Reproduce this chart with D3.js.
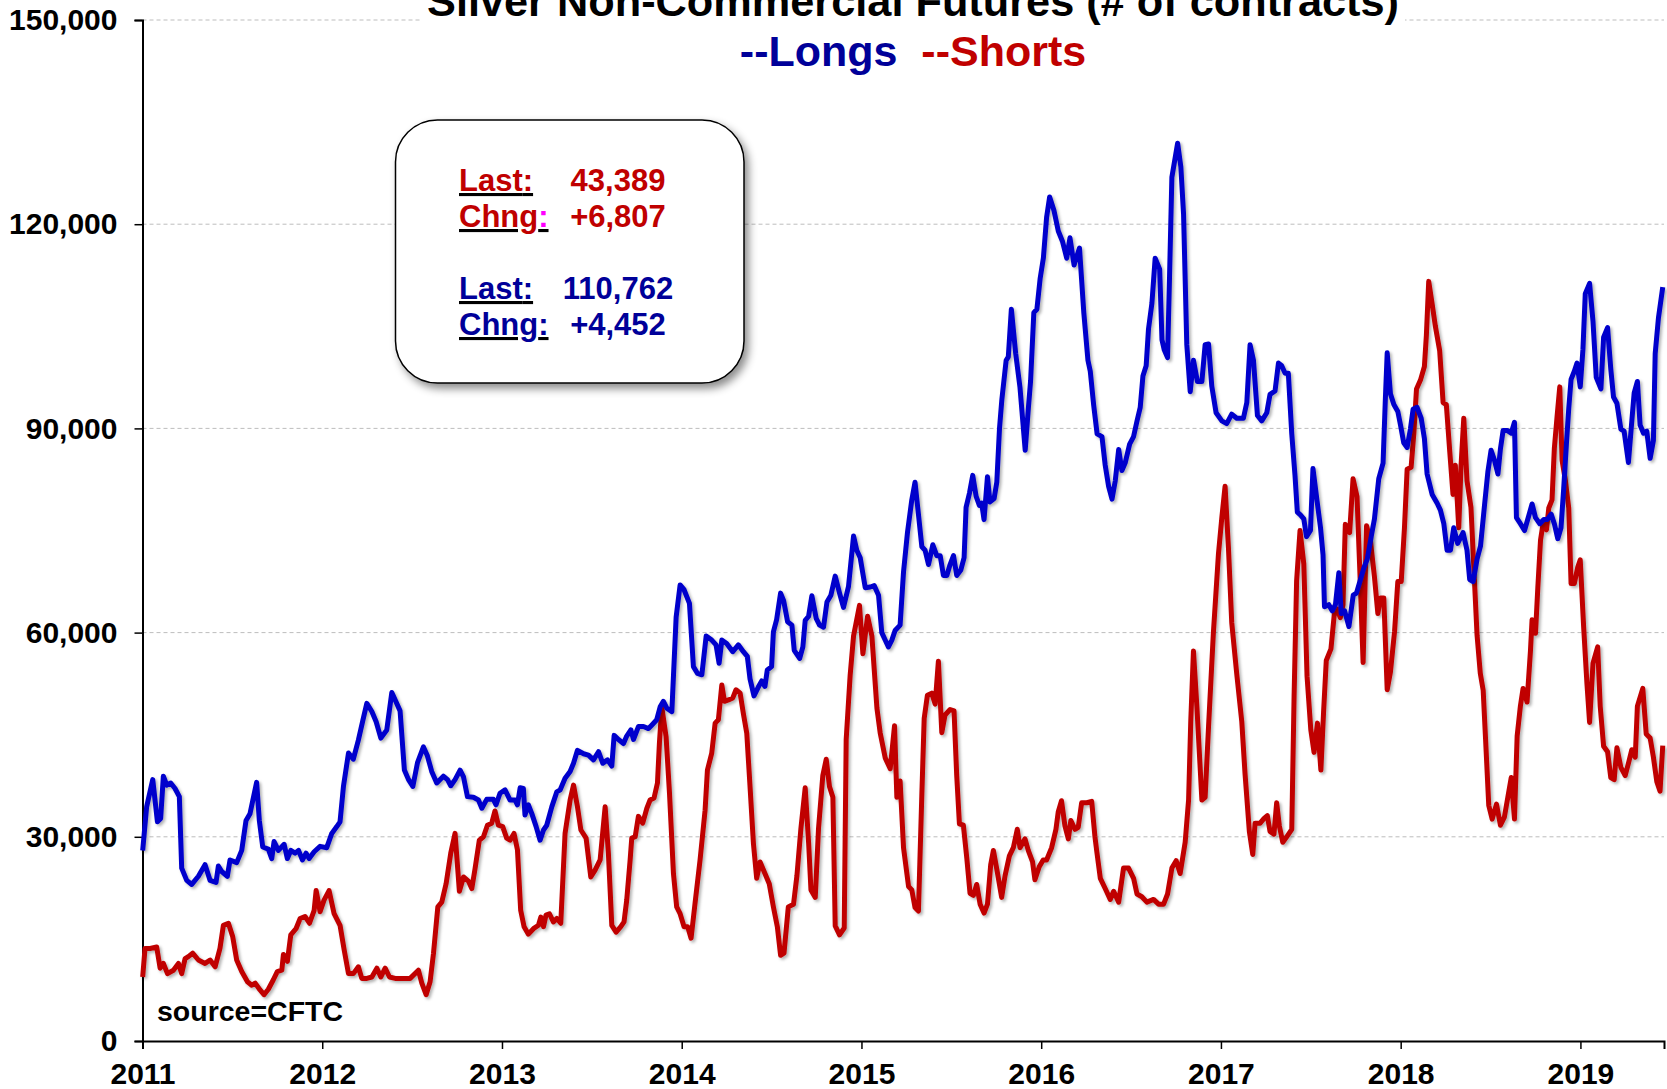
<!DOCTYPE html>
<html>
<head>
<meta charset="utf-8">
<script src="https://cdn.jsdelivr.net/npm/d3@7"></script>
<style>
  body { margin: 0; background: #fff; }
  svg { display: block; font-family: "Liberation Sans", Arial, sans-serif; font-weight: bold; }
</style>
</head>
<body>
<div id="chart"></div>
<script>
// Weekly Commitments of Traders readings, time in decimal years, values in thousands of contracts
const longsTime = [
  2011.001, 2011.023, 2011.057, 2011.083, 2011.101, 2011.116, 2011.135, 2011.157, 2011.181, 2011.205,
  2011.218, 2011.246, 2011.274, 2011.311, 2011.348, 2011.376, 2011.409, 2011.422, 2011.441, 2011.472,
  2011.487, 2011.524, 2011.552, 2011.576, 2011.598, 2011.635, 2011.650, 2011.669, 2011.700, 2011.719,
  2011.732, 2011.756, 2011.788, 2011.806, 2011.825, 2011.849, 2011.868, 2011.890, 2011.910, 2011.927,
  2011.955, 2011.988, 2012.025, 2012.053, 2012.081, 2012.099, 2012.118, 2012.146, 2012.173, 2012.201,
  2012.226, 2012.248, 2012.276, 2012.300, 2012.326, 2012.359, 2012.387, 2012.411, 2012.433, 2012.457,
  2012.480, 2012.504, 2012.530, 2012.563, 2012.585, 2012.609, 2012.637, 2012.674, 2012.697, 2012.715,
  2012.739, 2012.767, 2012.786, 2012.808, 2012.841, 2012.869, 2012.888, 2012.915, 2012.952, 2012.967,
  2012.989, 2013.017, 2013.045, 2013.073, 2013.086, 2013.101, 2013.119, 2013.128, 2013.147, 2013.166,
  2013.190, 2013.212, 2013.231, 2013.249, 2013.277, 2013.305, 2013.324, 2013.351, 2013.379, 2013.398,
  2013.420, 2013.454, 2013.481, 2013.509, 2013.537, 2013.561, 2013.587, 2013.611, 2013.624, 2013.648,
  2013.676, 2013.694, 2013.717, 2013.732, 2013.759, 2013.787, 2013.815, 2013.833, 2013.861, 2013.880,
  2013.898, 2013.917, 2013.945, 2013.969, 2013.991, 2014.013, 2014.043, 2014.065, 2014.088, 2014.112,
  2014.136, 2014.167, 2014.191, 2014.208, 2014.223, 2014.250, 2014.284, 2014.315, 2014.343, 2014.365,
  2014.380, 2014.402, 2014.426, 2014.445, 2014.463, 2014.476, 2014.500, 2014.510, 2014.528, 2014.550,
  2014.567, 2014.589, 2014.613, 2014.626, 2014.656, 2014.674, 2014.687, 2014.706, 2014.724, 2014.748,
  2014.767, 2014.789, 2014.808, 2014.830, 2014.854, 2014.878, 2014.900, 2014.928, 2014.956, 2014.974,
  2014.993, 2015.021, 2015.049, 2015.071, 2015.095, 2015.113, 2015.132, 2015.150, 2015.169, 2015.187,
  2015.215, 2015.234, 2015.256, 2015.280, 2015.298, 2015.317, 2015.336, 2015.354, 2015.373, 2015.397,
  2015.419, 2015.438, 2015.456, 2015.475, 2015.493, 2015.512, 2015.530, 2015.553, 2015.571, 2015.582,
  2015.601, 2015.619, 2015.638, 2015.656, 2015.669, 2015.682, 2015.701, 2015.715, 2015.738, 2015.753,
  2015.768, 2015.781, 2015.805, 2015.817, 2015.834, 2015.858, 2015.882, 2015.911, 2015.929, 2015.941,
  2015.959, 2015.976, 2015.994, 2016.012, 2016.030, 2016.047, 2016.071, 2016.095, 2016.118, 2016.142,
  2016.160, 2016.183, 2016.213, 2016.237, 2016.260, 2016.273, 2016.292, 2016.311, 2016.338, 2016.356,
  2016.375, 2016.394, 2016.412, 2016.431, 2016.449, 2016.468, 2016.492, 2016.514, 2016.533, 2016.551,
  2016.566, 2016.584, 2016.597, 2016.616, 2016.634, 2016.659, 2016.672, 2016.685, 2016.703, 2016.714,
  2016.727, 2016.759, 2016.777, 2016.792, 2016.810, 2016.829, 2016.847, 2016.869, 2016.894, 2016.912,
  2016.931, 2016.949, 2016.973, 2017.005, 2017.032, 2017.060, 2017.088, 2017.125, 2017.144, 2017.162,
  2017.181, 2017.203, 2017.227, 2017.255, 2017.273, 2017.301, 2017.320, 2017.338, 2017.357, 2017.375,
  2017.394, 2017.412, 2017.425, 2017.442, 2017.461, 2017.476, 2017.498, 2017.512, 2017.535, 2017.554,
  2017.568, 2017.576, 2017.600, 2017.619, 2017.637, 2017.656, 2017.669, 2017.688, 2017.712, 2017.736,
  2017.754, 2017.773, 2017.795, 2017.814, 2017.836, 2017.854, 2017.878, 2017.902, 2017.915, 2017.925,
  2017.943, 2017.962, 2017.984, 2017.999, 2018.017, 2018.036, 2018.054, 2018.069, 2018.091, 2018.114,
  2018.132, 2018.147, 2018.175, 2018.203, 2018.221, 2018.240, 2018.258, 2018.277, 2018.295, 2018.317,
  2018.347, 2018.369, 2018.384, 2018.403, 2018.425, 2018.444, 2018.466, 2018.485, 2018.503, 2018.522,
  2018.541, 2018.555, 2018.570, 2018.592, 2018.615, 2018.633, 2018.644, 2018.666, 2018.689, 2018.713,
  2018.731, 2018.750, 2018.774, 2018.796, 2018.815, 2018.837, 2018.855, 2018.874, 2018.892, 2018.907,
  2018.922, 2018.935, 2018.948, 2018.966, 2018.981, 2018.999, 2019.014, 2019.027, 2019.051, 2019.070,
  2019.088, 2019.114, 2019.129, 2019.151, 2019.169, 2019.184, 2019.203, 2019.225, 2019.243, 2019.267,
  2019.286, 2019.299, 2019.317, 2019.332, 2019.351, 2019.369, 2019.388, 2019.406, 2019.416, 2019.434,
  2019.458
];
const longsThousands = [
  28.0, 34.4, 38.4, 32.2, 32.7, 38.9, 37.6, 37.9, 37.1, 35.9,
  25.4, 23.6, 23.0, 24.2, 25.9, 23.6, 23.3, 25.7, 24.9, 24.2,
  26.6, 26.2, 28.0, 32.4, 33.4, 38.0, 32.4, 28.5, 28.2, 26.8,
  29.3, 28.0, 28.9, 26.8, 28.0, 27.6, 28.0, 26.6, 27.6, 26.8,
  27.8, 28.6, 28.4, 30.5, 31.5, 32.2, 37.4, 42.3, 41.4, 44.2,
  47.1, 49.6, 48.4, 46.9, 44.5, 45.7, 51.2, 49.8, 48.5, 39.8,
  38.4, 37.4, 40.9, 43.2, 41.9, 39.6, 37.9, 38.9, 38.4, 37.5,
  38.4, 39.8, 38.8, 35.9, 35.8, 35.4, 34.2, 35.5, 35.5, 34.7,
  36.4, 36.9, 35.4, 35.4, 34.7, 37.2, 37.1, 33.2, 34.7, 33.4,
  31.5, 29.5, 31.0, 31.7, 34.4, 36.6, 36.9, 38.6, 39.6, 40.8,
  42.7, 42.2, 42.0, 41.3, 42.5, 40.8, 41.3, 40.4, 44.9, 44.3,
  43.7, 44.8, 45.7, 44.3, 46.2, 46.2, 45.9, 46.4, 47.2, 49.1,
  49.9, 48.9, 48.4, 62.3, 67.0, 66.3, 64.3, 55.0, 54.0, 53.8,
  59.5, 58.9, 58.2, 55.5, 58.9, 58.4, 57.2, 58.2, 57.2, 56.5,
  53.2, 50.7, 52.0, 52.9, 52.1, 54.5, 55.0, 60.1, 61.9, 65.8,
  64.7, 61.6, 61.1, 57.4, 56.2, 57.9, 61.8, 62.4, 65.4, 62.1,
  61.1, 60.8, 64.5, 65.5, 68.3, 65.8, 63.7, 66.8, 74.2, 72.1,
  71.0, 66.6, 66.7, 66.9, 65.5, 60.0, 58.9, 57.9, 58.9, 60.3,
  61.1, 68.9, 74.7, 79.5, 82.1, 77.4, 72.6, 72.1, 70.0, 72.9,
  71.3, 71.3, 68.4, 68.4, 70.0, 71.3, 68.4, 69.2, 71.0, 78.4,
  80.5, 83.1, 80.0, 78.7, 79.0, 76.6, 82.9, 79.2, 79.7, 82.1,
  90.0, 94.2, 100.0, 100.5, 107.5, 101.0, 96.0, 86.8, 93.1, 97.0,
  107.0, 107.5, 112.0, 115.0, 121.0, 124.0, 122.0, 119.0, 117.5, 115.0,
  118.0, 114.0, 116.5, 107.0, 100.0, 98.4, 93.4, 89.2, 88.8, 84.6,
  81.5, 79.6, 82.3, 86.9, 83.8, 85.0, 87.7, 88.8, 91.1, 93.1,
  97.7, 99.2, 104.6, 108.4, 115.0, 113.4, 103.0, 101.5, 100.4, 112.3,
  126.9, 131.9, 128.4, 121.5, 102.3, 95.4, 100.0, 96.9, 96.9, 102.3,
  102.4, 96.2, 92.3, 91.1, 90.7, 92.1, 91.5, 91.5, 93.8, 102.3,
  100.0, 91.9, 91.1, 92.3, 95.0, 95.5, 99.6, 99.2, 98.1, 98.1,
  89.2, 83.1, 77.7, 77.3, 76.7, 74.1, 75.0, 84.1, 79.3, 75.4,
  71.4, 63.8, 64.1, 63.2, 64.1, 68.8, 62.8, 63.2, 60.9, 65.5,
  65.8, 67.5, 69.5, 70.8, 74.1, 76.7, 82.6, 84.9, 94.5, 101.1,
  95.1, 93.5, 92.5, 90.5, 87.9, 87.2, 89.9, 92.8, 93.1, 91.5,
  88.5, 83.3, 80.3, 79.0, 78.0, 76.0, 72.1, 72.1, 75.4, 73.1,
  74.7, 72.1, 67.8, 67.5, 70.8, 72.7, 78.6, 83.6, 86.8, 85.3,
  83.3, 87.0, 89.7, 89.7, 89.3, 90.9, 76.9, 76.0, 75.0, 77.2,
  78.9, 76.9, 76.0, 76.6, 76.6, 77.4, 76.0, 73.8, 75.4, 81.2,
  87.7, 92.9, 97.2, 98.4, 99.6, 96.1, 101.6, 109.8, 111.3, 105.7,
  97.5, 95.8, 103.4, 104.8, 98.7, 94.6, 93.7, 89.9, 89.6, 85.0,
  91.1, 95.2, 96.9, 90.5, 89.3, 89.6, 85.6, 88.2, 101.0, 106.2,
  110.762
];

const shortsTime = [
  2011.001, 2011.014, 2011.042, 2011.079, 2011.098, 2011.116, 2011.139, 2011.172, 2011.200, 2011.218,
  2011.237, 2011.255, 2011.279, 2011.311, 2011.348, 2011.376, 2011.404, 2011.431, 2011.450, 2011.478,
  2011.502, 2011.524, 2011.552, 2011.584, 2011.608, 2011.627, 2011.654, 2011.676, 2011.700, 2011.728,
  2011.750, 2011.775, 2011.784, 2011.806, 2011.825, 2011.854, 2011.877, 2011.904, 2011.929, 2011.955,
  2011.966, 2011.988, 2012.010, 2012.038, 2012.066, 2012.099, 2012.122, 2012.146, 2012.173, 2012.201,
  2012.220, 2012.248, 2012.276, 2012.304, 2012.326, 2012.350, 2012.374, 2012.406, 2012.452, 2012.489,
  2012.535, 2012.554, 2012.578, 2012.600, 2012.619, 2012.643, 2012.665, 2012.689, 2012.715, 2012.739,
  2012.763, 2012.786, 2012.813, 2012.832, 2012.850, 2012.874, 2012.897, 2012.919, 2012.943, 2012.961,
  2012.980, 2013.004, 2013.026, 2013.045, 2013.067, 2013.086, 2013.104, 2013.123, 2013.147, 2013.175,
  2013.203, 2013.216, 2013.231, 2013.245, 2013.264, 2013.286, 2013.305, 2013.327, 2013.351, 2013.379,
  2013.398, 2013.420, 2013.439, 2013.468, 2013.494, 2013.518, 2013.546, 2013.574, 2013.592, 2013.611,
  2013.635, 2013.661, 2013.679, 2013.694, 2013.713, 2013.722, 2013.741, 2013.759, 2013.783, 2013.806,
  2013.824, 2013.846, 2013.865, 2013.876, 2013.889, 2013.913, 2013.932, 2013.954, 2013.972, 2013.991,
  2014.013, 2014.033, 2014.052, 2014.074, 2014.102, 2014.130, 2014.143, 2014.167, 2014.186, 2014.204,
  2014.223, 2014.238, 2014.260, 2014.284, 2014.302, 2014.325, 2014.343, 2014.362, 2014.380, 2014.399,
  2014.417, 2014.436, 2014.463, 2014.487, 2014.510, 2014.532, 2014.550, 2014.569, 2014.593, 2014.622,
  2014.641, 2014.663, 2014.687, 2014.706, 2014.719, 2014.743, 2014.761, 2014.785, 2014.804, 2014.822,
  2014.841, 2014.854, 2014.878, 2014.904, 2014.915, 2014.937, 2014.956, 2014.989, 2015.008, 2015.034,
  2015.058, 2015.086, 2015.104, 2015.132, 2015.160, 2015.184, 2015.197, 2015.215, 2015.234, 2015.262,
  2015.280, 2015.298, 2015.317, 2015.336, 2015.349, 2015.367, 2015.391, 2015.410, 2015.428, 2015.447,
  2015.465, 2015.493, 2015.515, 2015.530, 2015.545, 2015.567, 2015.586, 2015.604, 2015.623, 2015.641,
  2015.660, 2015.682, 2015.701, 2015.719, 2015.734, 2015.756, 2015.780, 2015.799, 2015.823, 2015.845,
  2015.867, 2015.882, 2015.910, 2015.928, 2015.952, 2015.965, 2015.989, 2016.011, 2016.030, 2016.058,
  2016.082, 2016.095, 2016.113, 2016.132, 2016.151, 2016.165, 2016.188, 2016.206, 2016.225, 2016.253,
  2016.281, 2016.299, 2016.310, 2016.329, 2016.356, 2016.384, 2016.403, 2016.431, 2016.458, 2016.486,
  2016.514, 2016.533, 2016.560, 2016.588, 2016.625, 2016.653, 2016.681, 2016.703, 2016.727, 2016.751,
  2016.773, 2016.801, 2016.820, 2016.832, 2016.847, 2016.866, 2016.894, 2016.912, 2016.931, 2016.958,
  2016.986, 2017.005, 2017.023, 2017.042, 2017.060, 2017.088, 2017.116, 2017.134, 2017.158, 2017.177,
  2017.190, 2017.218, 2017.240, 2017.258, 2017.273, 2017.295, 2017.310, 2017.325, 2017.344, 2017.366,
  2017.394, 2017.407, 2017.421, 2017.440, 2017.461, 2017.479, 2017.500, 2017.518, 2017.537, 2017.556,
  2017.571, 2017.586, 2017.612, 2017.631, 2017.645, 2017.664, 2017.679, 2017.692, 2017.716, 2017.735,
  2017.757, 2017.776, 2017.791, 2017.810, 2017.832, 2017.854, 2017.873, 2017.888, 2017.906, 2017.925,
  2017.943, 2017.966, 2017.984, 2018.003, 2018.021, 2018.036, 2018.058, 2018.073, 2018.088, 2018.110,
  2018.132, 2018.143, 2018.156, 2018.175, 2018.193, 2018.217, 2018.236, 2018.254, 2018.273, 2018.291,
  2018.304, 2018.323, 2018.336, 2018.351, 2018.369, 2018.391, 2018.406, 2018.425, 2018.443, 2018.459,
  2018.472, 2018.490, 2018.509, 2018.533, 2018.555, 2018.577, 2018.596, 2018.615, 2018.633, 2018.648,
  2018.666, 2018.681, 2018.703, 2018.722, 2018.731, 2018.750, 2018.763, 2018.778, 2018.792, 2018.811,
  2018.824, 2018.842, 2018.855, 2018.870, 2018.885, 2018.898, 2018.916, 2018.935, 2018.948, 2018.966,
  2018.985, 2018.999, 2019.018, 2019.036, 2019.051, 2019.070, 2019.096, 2019.110, 2019.129, 2019.151,
  2019.169, 2019.188, 2019.203, 2019.225, 2019.249, 2019.267, 2019.286, 2019.305, 2019.317, 2019.347,
  2019.366, 2019.388, 2019.406, 2019.425, 2019.443, 2019.458
];
const shortsThousands = [
  9.4, 13.6, 13.6, 13.8, 10.7, 11.4, 9.9, 10.4, 11.4, 9.9,
  12.1, 12.4, 12.9, 11.9, 11.4, 11.9, 10.9, 13.6, 17.0, 17.3,
  15.3, 11.9, 10.2, 8.7, 8.2, 8.5, 7.5, 6.8, 7.6, 9.0,
  10.2, 10.4, 12.7, 11.7, 15.6, 16.5, 18.0, 18.3, 17.3, 19.2,
  22.1, 19.0, 20.7, 22.1, 18.7, 17.0, 13.4, 9.9, 9.9, 10.9,
  9.2, 9.2, 9.4, 10.7, 9.4, 10.7, 9.4, 9.2, 9.2, 9.2,
  10.4, 8.5, 6.8, 8.7, 12.9, 19.7, 20.4, 23.1, 27.6, 30.5,
  22.0, 24.1, 23.5, 22.4, 25.3, 29.5, 30.0, 31.7, 32.0, 33.8,
  31.7, 31.5, 29.8, 29.5, 30.5, 28.1, 19.2, 16.8, 15.7, 16.5,
  17.0, 18.2, 16.8, 18.5, 18.7, 17.5, 18.0, 17.3, 30.5, 35.4,
  37.6, 34.4, 31.0, 29.8, 24.1, 25.1, 26.6, 34.4, 27.6, 17.0,
  16.0, 16.8, 17.5, 20.7, 26.6, 29.8, 30.0, 33.0, 32.0, 34.2,
  35.4, 35.7, 37.9, 43.8, 49.1, 44.7, 36.4, 24.6, 19.7, 18.7,
  16.8, 16.8, 15.1, 20.2, 26.6, 33.9, 39.8, 42.3, 46.7, 47.2,
  52.3, 49.9, 50.1, 50.4, 51.6, 51.1, 48.1, 45.2, 37.4, 29.0,
  23.9, 26.3, 24.6, 23.1, 19.7, 16.8, 12.6, 12.9, 19.7, 20.1,
  24.3, 31.2, 37.2, 29.1, 22.2, 21.1, 31.2, 39.0, 41.4, 37.4,
  35.8, 16.9, 15.6, 16.6, 44.3, 53.7, 59.5, 64.0, 56.9, 62.4,
  59.5, 48.9, 45.3, 41.6, 40.0, 46.3, 35.8, 38.2, 28.4, 22.7,
  22.2, 19.6, 19.1, 36.3, 47.4, 50.8, 51.1, 49.5, 55.8, 45.3,
  47.9, 48.7, 48.5, 39.0, 31.9, 31.7, 26.9, 21.7, 21.4, 23.0,
  20.1, 18.8, 20.1, 25.9, 28.0, 24.8, 21.1, 24.3, 27.2, 28.4,
  31.1, 28.4, 29.7, 28.0, 26.3, 23.7, 25.6, 26.6, 26.6, 28.4,
  31.1, 33.7, 35.3, 31.6, 29.7, 32.4, 31.1, 31.4, 35.0, 35.0,
  35.2, 30.0, 27.7, 23.9, 22.4, 20.8, 22.0, 20.4, 25.4, 25.4,
  23.9, 21.6, 21.2, 20.4, 20.8, 20.1, 20.1, 21.6, 25.4, 26.5,
  24.6, 29.2, 35.4, 46.9, 57.3, 49.2, 35.4, 35.8, 46.2, 60.0,
  71.5, 76.9, 81.5, 72.3, 61.5, 53.9, 46.9, 39.3, 30.8, 27.4,
  32.0, 32.0, 32.7, 33.1, 30.8, 30.4, 35.0, 31.6, 29.2, 30.0,
  31.1, 50.7, 67.6, 75.0, 70.1, 53.6, 45.7, 42.4, 46.7, 39.8,
  48.3, 55.9, 57.6, 62.8, 63.5, 62.2, 64.1, 75.9, 74.7, 82.6,
  80.0, 66.8, 55.6, 75.7, 73.4, 68.2, 62.8, 65.1, 65.1, 51.6,
  54.2, 60.2, 67.5, 67.5, 75.4, 84.0, 84.3, 89.2, 95.8, 97.1,
  99.1, 103.7, 111.6, 108.3, 105.0, 101.4, 93.8, 93.5, 86.6, 80.3,
  84.6, 75.4, 84.6, 91.5, 82.3, 78.4, 70.1, 59.6, 54.0, 51.5,
  44.5, 34.6, 32.6, 34.8, 31.7, 32.9, 35.8, 38.7, 32.6, 44.8,
  49.2, 51.8, 49.8, 57.3, 61.9, 59.9, 66.6, 73.6, 76.0, 75.1,
  78.3, 79.5, 87.1, 91.7, 96.1, 85.3, 82.4, 78.3, 67.2, 67.2,
  69.6, 70.7, 60.8, 52.6, 46.8, 55.5, 57.9, 49.2, 43.3, 42.5,
  38.7, 38.4, 43.1, 40.2, 39.0, 40.8, 42.8, 41.7, 49.2, 51.8,
  45.1, 44.5, 41.7, 38.1, 36.7, 43.389
];

const yearTicks = [2011, 2012, 2013, 2014, 2015, 2016, 2017, 2018, 2019];
const valueTicks = [0, 30, 60, 90, 120, 150];

const TITLE = "Silver Non-Commercial Futures  (# of contracts)";
const LONGS_LABEL = "--Longs";
const SHORTS_LABEL = "--Shorts";
const SOURCE = "source=CFTC";
const shortsStats = { last: "43,389", chng: "+6,807" };
const longsStats = { last: "110,762", chng: "+4,452" };

// Colours
const BLUE_LINE = "#0000CC";
const RED_LINE = "#C00000";
const BLUE_TEXT = "#000099";
const GRID = "#BDBDBD";

const WIDTH = 1667;
const HEIGHT = 1089;
const margin = { top: 20, right: 3, bottom: 48, left: 142.5 };
const plotW = WIDTH - margin.left - margin.right;
const plotH = HEIGHT - margin.top - margin.bottom;

const svg = d3.select("#chart")
    .append("svg")
    .attr("width", WIDTH)
    .attr("height", HEIGHT);

const defs = svg.append("defs");
defs.append("filter")
    .attr("id", "lineShadow")
    .attr("x", "-5%").attr("y", "-5%").attr("width", "110%").attr("height", "110%")
    .append("feDropShadow")
    .attr("dx", 2).attr("dy", 2).attr("stdDeviation", 1.5)
    .attr("flood-color", "#000").attr("flood-opacity", 0.3);
defs.append("filter")
    .attr("id", "boxShadow")
    .attr("x", "-10%").attr("y", "-10%").attr("width", "125%").attr("height", "125%")
    .append("feDropShadow")
    .attr("dx", 4).attr("dy", 5).attr("stdDeviation", 4)
    .attr("flood-color", "#000").attr("flood-opacity", 0.45);

const g = svg.append("g")
    .attr("transform", `translate(${margin.left}, ${margin.top})`);

const x = d3.scaleLinear()
    .domain([2011, 2019.465])
    .range([0, plotW]);

const y = d3.scaleLinear()
    .domain([0, 150])
    .range([plotH, 0]);

// Dashed horizontal gridlines
g.append("g")
    .selectAll("line")
    .data(valueTicks.filter(d => d > 0))
    .join("line")
    .attr("x1", 0)
    .attr("x2", plotW)
    .attr("y1", d => y(d))
    .attr("y2", d => y(d))
    .attr("stroke", GRID)
    .attr("stroke-width", 1)
    .attr("stroke-dasharray", "4,3");

// Y axis
const yAxis = g.append("g")
    .call(d3.axisLeft(y)
        .tickValues(valueTicks)
        .tickSize(8)
        .tickPadding(17)
        .tickFormat(d => d3.format(",")(d * 1000)));
yAxis.select(".domain").attr("stroke", "#000").attr("stroke-width", 2);
yAxis.selectAll(".tick line").attr("stroke", "#000").attr("stroke-width", 1.5);
yAxis.selectAll(".tick text")
    .attr("fill", "#000")
    .style("font-size", "30px")
    .style("font-weight", "bold")
    .style("font-family", "'Liberation Sans', Arial, sans-serif");

// X axis
const xAxis = g.append("g")
    .attr("transform", `translate(0,${plotH})`)
    .call(d3.axisBottom(x)
        .tickValues(yearTicks)
        .tickSize(8)
        .tickPadding(14)
        .tickFormat(d3.format("d")));
xAxis.select(".domain").attr("stroke", "#000").attr("stroke-width", 2);
xAxis.selectAll(".tick line").attr("stroke", "#000").attr("stroke-width", 1.5);
xAxis.selectAll(".tick text")
    .attr("fill", "#000")
    .style("font-size", "30px")
    .style("font-weight", "bold")
    .style("font-family", "'Liberation Sans', Arial, sans-serif");

// Series lines
const line = d3.line()
    .x(d => x(d[0]))
    .y(d => y(d[1]));

const series = [
    { name: "shorts", color: RED_LINE, pts: d3.zip(shortsTime, shortsThousands) },
    { name: "longs", color: BLUE_LINE, pts: d3.zip(longsTime, longsThousands) }
];

g.selectAll(".series")
    .data(series)
    .join("path")
    .attr("class", "series")
    .attr("d", d => line(d.pts))
    .attr("fill", "none")
    .attr("stroke", d => d.color)
    .attr("stroke-width", 5)
    .attr("stroke-linejoin", "round")
    .attr("filter", "url(#lineShadow)");

// Title with white backing that hides the top gridline
const titleX = 913;
svg.append("rect")
    .attr("x", titleX - 492)
    .attr("y", 0)
    .attr("width", 984)
    .attr("height", 26)
    .attr("fill", "#fff");
svg.append("text")
    .attr("x", titleX)
    .attr("y", 16)
    .attr("text-anchor", "middle")
    .attr("textLength", 972)
    .attr("lengthAdjust", "spacingAndGlyphs")
    .style("font-size", "43px")
    .attr("fill", "#000")
    .text(TITLE);

const sub = svg.append("text")
    .attr("x", titleX)
    .attr("y", 66)
    .attr("xml:space", "preserve")
    .attr("text-anchor", "middle")
    .style("font-size", "43px");
sub.append("tspan").attr("fill", BLUE_TEXT).text(LONGS_LABEL);
sub.append("tspan").attr("fill", RED_LINE).text("  " + SHORTS_LABEL);

// Stats box
svg.append("rect")
    .attr("x", 395.5)
    .attr("y", 120)
    .attr("width", 348.5)
    .attr("height", 263)
    .attr("rx", 42)
    .attr("ry", 42)
    .attr("fill", "#fff")
    .attr("stroke", "#000")
    .attr("stroke-width", 1.5)
    .attr("filter", "url(#boxShadow)");

const rows = [
    { label: "Last", value: shortsStats.last, color: RED_LINE, colonColor: RED_LINE, y: 191 },
    { label: "Chng", value: shortsStats.chng, color: RED_LINE, colonColor: "#FF00FF", y: 227 },
    { label: "Last", value: longsStats.last, color: BLUE_TEXT, colonColor: BLUE_TEXT, y: 299 },
    { label: "Chng", value: longsStats.chng, color: BLUE_TEXT, colonColor: BLUE_TEXT, y: 335 }
];

rows.forEach(r => {
    const lbl = svg.append("text")
        .attr("x", 459)
        .attr("y", r.y)
        .style("font-size", "31px")
        .style("text-decoration", "underline");
    lbl.append("tspan").attr("fill", r.color).text(r.label);
    lbl.append("tspan").attr("fill", r.colonColor).text(":");

    svg.append("text")
        .attr("x", 618)
        .attr("y", r.y)
        .attr("text-anchor", "middle")
        .style("font-size", "31px")
        .attr("fill", r.color)
        .text(r.value);
});

// Source note
svg.append("text")
    .attr("x", 157)
    .attr("y", 1021)
    .style("font-size", "28.5px")
    .attr("fill", "#000")
    .text(SOURCE);
</script>
</body>
</html>
